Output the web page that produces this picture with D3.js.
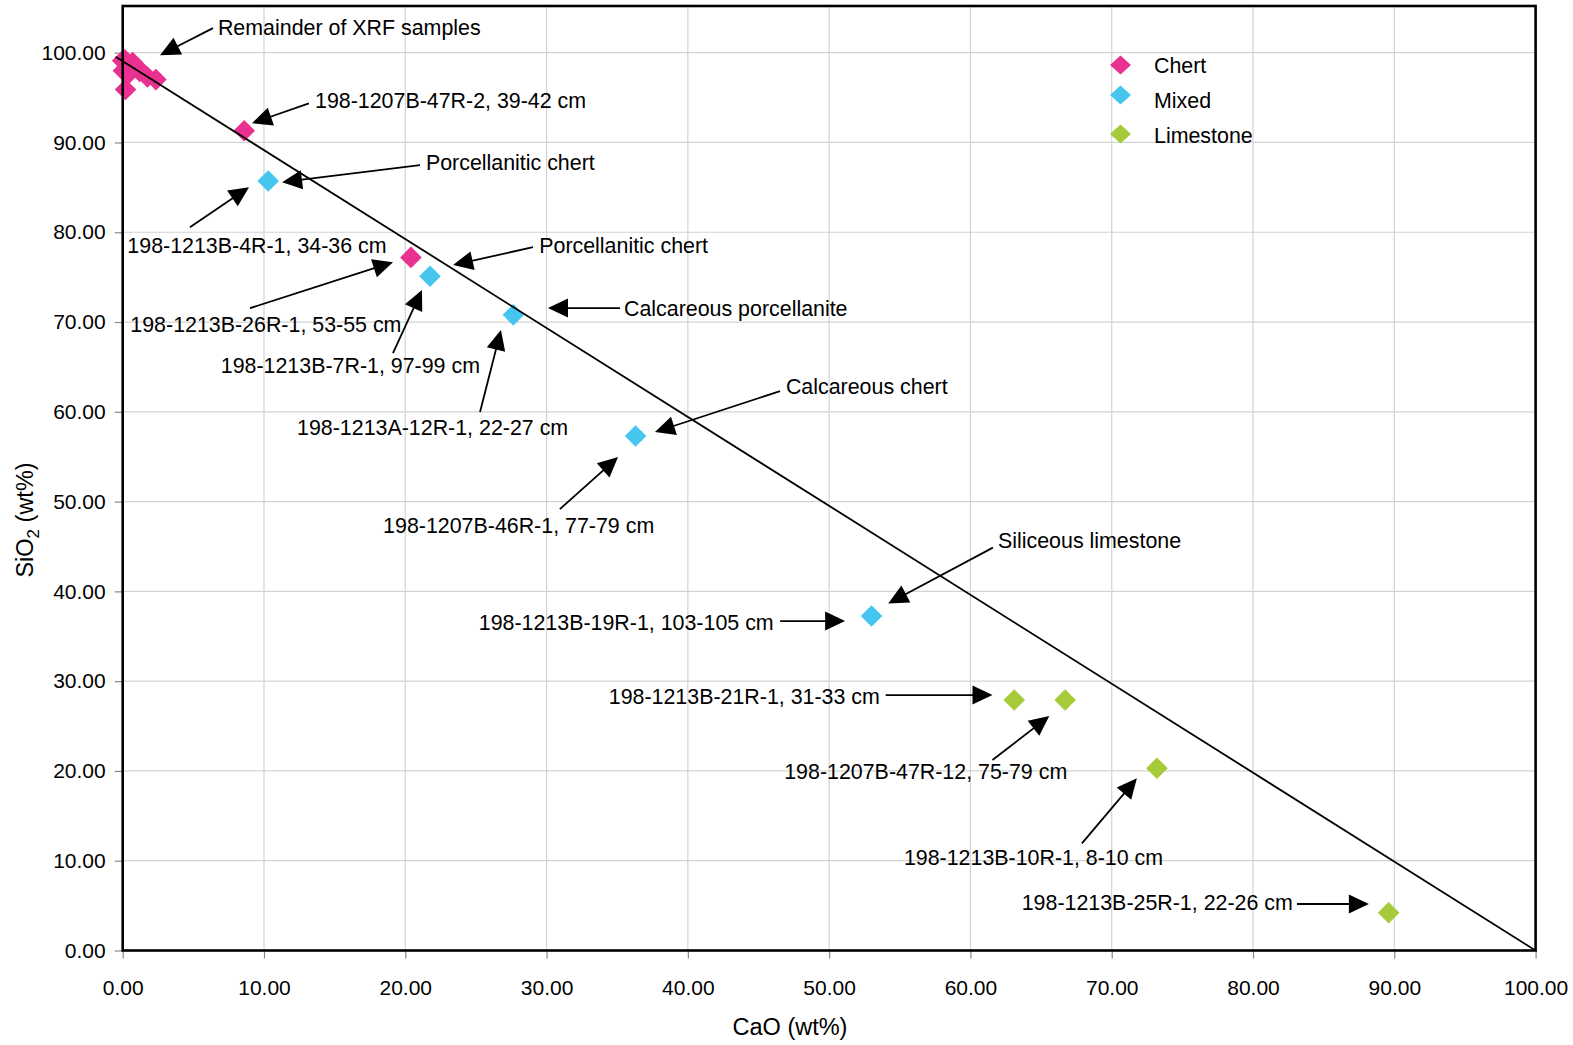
<!DOCTYPE html>
<html>
<head>
<meta charset="utf-8">
<script src="https://cdn.jsdelivr.net/npm/d3@7"></script>
<style>
  html, body { margin: 0; padding: 0; background: #fff; }
  svg text { font-family: "Liberation Sans", Arial, Helvetica, sans-serif; fill: #000; }
</style>
</head>
<body>
<svg id="chart" width="1573" height="1045"></svg>
<script>
// ---------------- DATA ----------------
const xTicks = [0, 10, 20, 30, 40, 50, 60, 70, 80, 90, 100];
const yTicks = [0, 10, 20, 30, 40, 50, 60, 70, 80, 90, 100];

const seriesNames = ["Chert", "Mixed", "Limestone"];
const seriesColors = ["#E9318F", "#46C6EF", "#A5CB3A"];

const chertCaO  = [0.0, 0.15, 0.7, 0.05, 0.5, 1.2, 1.0, 1.75, 2.35, 0.2, 8.6, 20.4];
const chertSiO2 = [99.1, 99.2, 98.9, 98.0, 97.8, 97.9, 98.4, 97.3, 97.0, 95.9, 91.3, 77.2];

const mixedCaO  = [10.3, 21.75, 27.65, 36.3, 53.0];
const mixedSiO2 = [85.7, 75.1, 70.8, 57.3, 37.25];

const limeCaO  = [63.1, 66.7, 73.2, 89.6];
const limeSiO2 = [27.9, 27.9, 20.3, 4.2];

// reference (dilution) line
const refLineCaO  = [-0.5, 100];
const refLineSiO2 = [99.55, 0];

// annotations: label text, label anchor (CaO, SiO2), arrow start, arrow tip
const annoText = [
  "Remainder of XRF samples",
  "198-1207B-47R-2, 39-42 cm",
  "Porcellanitic chert",
  "198-1213B-4R-1, 34-36 cm",
  "Porcellanitic chert",
  "198-1213B-26R-1, 53-55 cm",
  "198-1213B-7R-1, 97-99 cm",
  "Calcareous porcellanite",
  "198-1213A-12R-1, 22-27 cm",
  "Calcareous chert",
  "198-1207B-46R-1, 77-79 cm",
  "Siliceous limestone",
  "198-1213B-19R-1, 103-105 cm",
  "198-1213B-21R-1, 31-33 cm",
  "198-1207B-47R-12, 75-79 cm",
  "198-1213B-10R-1, 8-10 cm",
  "198-1213B-25R-1, 22-26 cm"
];
const annoTextX = [6.74, 13.61, 21.46, 0.33, 29.48, 0.54, 6.94, 35.48, 12.34, 46.94, 18.43, 61.95, 25.2, 34.4, 46.82, 55.29, 63.63];
const annoTextY = [102.84, 94.68, 87.84, 78.56, 78.56, 69.77, 65.2, 71.55, 58.33, 62.86, 47.38, 45.65, 36.55, 28.34, 19.99, 10.38, 5.32];
const arrowFromX = [6.39, 13.18, 21.04, 4.76, 29.04, 9.01, 19.13, 35.2, 25.29, 46.53, 30.94, 61.59, 46.53, 54.0, 61.56, 67.89, 83.11];
const arrowFromY = [102.73, 94.35, 87.47, 80.57, 78.34, 71.55, 66.55, 71.55, 59.97, 62.31, 49.16, 44.87, 36.69, 28.45, 21.21, 11.94, 5.18];
const arrowToX   = [2.64, 9.15, 11.28, 8.94, 23.38, 19.13, 21.18, 30.1, 26.77, 37.67, 35.06, 54.18, 51.13, 61.56, 65.58, 71.78, 88.2];
const arrowToY   = [99.72, 92.15, 85.58, 85.02, 76.34, 76.67, 73.57, 71.55, 69.1, 57.74, 54.96, 38.66, 36.69, 28.45, 26.11, 19.18, 5.18];

// ---------------- CHART ----------------
const svg = d3.select("#chart");
const plotL = 122.7, plotR = 1535.6, plotT = 6, plotB = 950.5;

const x = d3.scaleLinear().domain([0, 100]).range([plotL, plotR]);
const y = d3.scaleLinear().domain([0, 105.2]).range([plotB, plotT]);

const fontSize = 21;
const annoFont = 21.4;

// gridlines
const grid = svg.append("g");
grid.selectAll("line.gx").data(xTicks.filter(d => d > 0 && d < 100)).enter()
  .append("line").attr("class", "gx")
  .attr("x1", d => x(d)).attr("x2", d => x(d))
  .attr("y1", y(0)).attr("y2", plotT)
  .attr("stroke", "#d3d3d3").attr("stroke-width", 1.2);
grid.selectAll("line.gy").data(yTicks.filter(d => d > 0)).enter()
  .append("line").attr("class", "gy")
  .attr("x1", plotL).attr("x2", plotR)
  .attr("y1", d => y(d)).attr("y2", d => y(d))
  .attr("stroke", "#d3d3d3").attr("stroke-width", 1.2);

// axes
const fmt = d3.format(".2f");
const xAxis = svg.append("g")
  .attr("transform", `translate(0,${plotB})`)
  .call(d3.axisBottom(x).tickValues(xTicks).tickFormat(fmt).tickSize(8).tickPadding(22));
const yAxis = svg.append("g")
  .attr("transform", `translate(${plotL},0)`)
  .call(d3.axisLeft(y).tickValues(yTicks).tickFormat(fmt).tickSize(8).tickPadding(9));
[xAxis, yAxis].forEach(g => {
  g.select(".domain").remove();
  g.selectAll(".tick line").attr("stroke", "#888").attr("stroke-width", 1.2);
  g.selectAll(".tick text").style("font-size", fontSize + "px")
    .style("font-family", '"Liberation Sans", Arial, Helvetica, sans-serif').attr("fill", "#111");
});

// points
const diamond = (cx, cy, r) => `M${cx},${cy - r}L${cx + r},${cy}L${cx},${cy + r}L${cx - r},${cy}Z`;
const series = [
  { xs: chertCaO, ys: chertSiO2, c: seriesColors[0] },
  { xs: mixedCaO, ys: mixedSiO2, c: seriesColors[1] },
  { xs: limeCaO,  ys: limeSiO2,  c: seriesColors[2] }
];
series.forEach(s => {
  svg.append("g").selectAll("path").data(s.xs.map((v, i) => [v, s.ys[i]])).enter()
    .append("path")
    .attr("d", d => diamond(x(d[0]), y(d[1]), 10.8))
    .attr("fill", s.c);
});

// reference line
svg.append("line")
  .attr("x1", x(refLineCaO[0])).attr("y1", y(refLineSiO2[0]))
  .attr("x2", x(refLineCaO[1])).attr("y2", y(refLineSiO2[1]))
  .attr("stroke", "#000").attr("stroke-width", 1.8);

// frame
svg.append("rect")
  .attr("x", plotL).attr("y", plotT)
  .attr("width", plotR - plotL).attr("height", plotB - plotT)
  .attr("fill", "none").attr("stroke", "#000").attr("stroke-width", 2.6);

// annotations
const ag = svg.append("g");
annoText.forEach((t, i) => {
  ag.append("text")
    .attr("x", x(annoTextX[i])).attr("y", y(annoTextY[i]))
    .attr("dy", "0.36em")
    .style("font-size", annoFont + "px")
    .text(t);
  const x0 = x(arrowFromX[i]), y0 = y(arrowFromY[i]);
  const x1 = x(arrowToX[i]),   y1 = y(arrowToY[i]);
  const dx = x1 - x0, dy = y1 - y0, len = Math.hypot(dx, dy);
  const ux = dx / len, uy = dy / len;
  const hl = 20, hw = 9.5;
  const bx = x1 - ux * hl, by = y1 - uy * hl;
  ag.append("line")
    .attr("x1", x0).attr("y1", y0).attr("x2", bx + ux * 2).attr("y2", by + uy * 2)
    .attr("stroke", "#000").attr("stroke-width", 1.8);
  ag.append("path")
    .attr("d", `M${x1},${y1}L${bx - uy * hw},${by + ux * hw}L${bx + uy * hw},${by - ux * hw}Z`)
    .attr("fill", "#000");
});

// legend
const legX = 1120.5, legTextX = 1154;
const legY = [65, 95, 134];
const legTextY = [65, 100, 135];
seriesNames.forEach((n, i) => {
  svg.append("path")
    .attr("d", `M${legX},${legY[i] - 9.5}L${legX + 10.5},${legY[i]}L${legX},${legY[i] + 9.5}L${legX - 10.5},${legY[i]}Z`)
    .attr("fill", seriesColors[i]);
  svg.append("text")
    .attr("x", legTextX).attr("y", legTextY[i]).attr("dy", "0.36em")
    .style("font-size", annoFont + "px")
    .text(n);
});

// axis titles
svg.append("text")
  .attr("x", 790).attr("y", 1027).attr("dy", "0.36em")
  .attr("text-anchor", "middle")
  .style("font-size", "23.5px")
  .text("CaO (wt%)");

const yt = svg.append("text")
  .attr("transform", "translate(25,520) rotate(-90)")
  .attr("dy", "0.36em")
  .attr("text-anchor", "middle")
  .style("font-size", "23.5px");
yt.append("tspan").text("SiO");
yt.append("tspan").attr("dy", "6").style("font-size", "17px").text("2");
yt.append("tspan").attr("dy", "-6").text(" (wt%)");
</script>
</body>
</html>
